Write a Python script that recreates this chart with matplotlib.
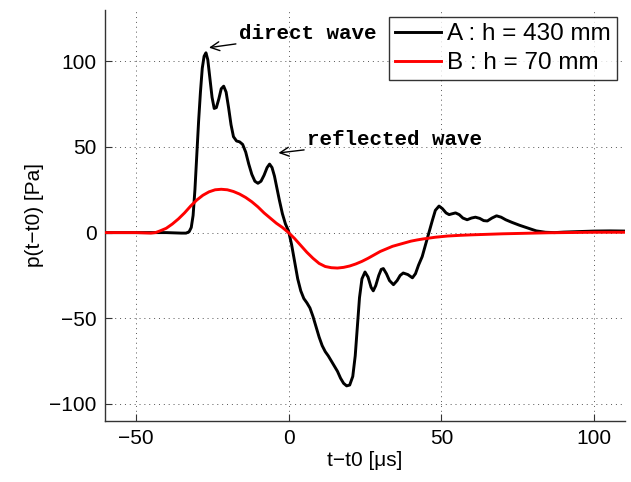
import matplotlib
matplotlib.use("Agg")
import matplotlib.pyplot as plt

# Series A (black): h = 430 mm
a_t = [-60, -50, -40, -35, -33.5, -32.5, -31.8, -31.2, -30.6, -30, -29.4, -28.8, -28.2, -27.6, -27,
       -26.4, -25.7, -25, -24.3, -23.6, -22.8, -22, -21.2, -20.4, -19.6, -18.8, -18, -17, -16, -15,
       -14, -13, -12, -11, -10, -9, -8, -7, -6.2, -5.4, -4.6, -3.8, -3, -2, -1, 0, 1, 2, 3, 4, 5, 6,
       7, 8, 9, 10, 11, 12, 13, 14, 15, 16, 17, 18, 19, 20, 21, 21.8, 22.5, 23.2, 24, 25, 26, 27,
       27.7, 28.5, 29.5, 30.3, 31, 32, 33, 34.3, 35.5, 36.5, 37.5, 39, 40.5, 41.5, 42.5, 43.7, 44.8,
       45.9, 47, 48, 49.2, 50.3, 51.5, 52.5, 53.5, 54.6, 55.8, 57, 58.4, 59.8, 61.1, 62.5, 63.8, 65,
       66.5, 68, 69.5, 71, 73, 75.5, 78.5, 81, 84, 87, 90, 95, 100, 105, 110]
a_p = [0, 0, 0, -0.3, -0.3, 0.5, 3, 10, 25, 45, 65, 82, 96, 103, 105,
       101, 90, 79, 72.5, 73, 78, 84, 85.5, 82, 73, 63, 56, 53.5, 53, 51.5,
       47, 40, 34, 30, 28.8, 30, 33.5, 38, 40, 38, 33, 26, 19, 11, 5, 1, -7, -17, -27, -34, -38.5, -41,
       -44, -49, -55, -61, -66, -69.5, -72, -75, -78, -81, -85, -88, -89.5, -89, -84, -72, -55, -38, -27, -23, -26, -32,
       -34, -31, -25, -21.5, -21, -24, -28, -30.4, -28, -25, -23.6, -24.5, -26.4, -24, -19, -14, -7,
       0, 7, 13, 15.5, 14, 11.5, 10.5, 11, 11.5, 10.5, 8.5, 7.5, 8.5, 9, 8.3, 7, 6.8,
       8.5, 9.8, 9, 7.5, 6, 4.3, 2.5, 1, 0.2, 0, 0.3, 0.6, 0.9, 1, 0.9]

# Series B (red): h = 70 mm
b_t = [-60, -50, -45, -43.5, -42, -40, -38, -36, -34, -32, -30, -28, -26, -24, -22, -20, -18, -16,
       -14, -12, -10, -8, -6, -4, -2, 0, 2, 4, 6, 8, 10, 12, 14, 16, 18, 20, 22, 24, 26, 28, 30, 32,
       34, 36, 38, 40, 42, 44, 46, 48, 52, 56, 60, 65, 70, 75, 80, 85, 90, 100, 110]
b_p = [0, 0, -0.3, 0, 1, 2.5, 5, 8, 11.5, 15.5, 19, 21.8, 23.8, 25, 25.3, 25, 24, 22.5,
       20.5, 18, 15, 11.5, 8.5, 5.5, 3, 0, -3.5, -7.5, -11.5, -15, -18, -19.8, -20.5, -20.7, -20.3, -19.5, -18.3, -16.8, -15, -13, -11, -9.5,
       -8, -7, -6, -5, -4.3, -3.7, -3.2, -2.7, -2, -1.6, -1.3, -1, -0.7, -0.5, -0.3, -0.1, 0, 0.2, 0.2]

x_ticks = [-50, 0, 50, 100]
y_ticks = [-100, -50, 0, 50, 100]
labels = ["A : h = 430 mm", "B : h = 70 mm"]

plt.rcParams['font.family'] = ['Liberation Sans', 'DejaVu Sans']
fig = plt.figure(figsize=(6.31, 4.82), dpi=100)
ax = fig.add_axes([0.1664, 0.1266, 0.8241, 0.8527])

ax.plot(a_t, a_p, color='black', lw=2.1, label=labels[0], zorder=3)
ax.plot(b_t, b_p, color='red', lw=2.1, label=labels[1], zorder=3)

ax.set_xlim(-60, 110)
ax.set_ylim(-110, 130)
ax.set_xticks(x_ticks)
ax.set_yticks(y_ticks)
ax.grid(True, linestyle=(0, (1, 4)), color='#555555', lw=0.7)
for s in ['top', 'right']:
    ax.spines[s].set_visible(False)
for s in ['left', 'bottom']:
    ax.spines[s].set_color('#333333')
    ax.spines[s].set_linewidth(1.0)
ax.tick_params(direction='in', length=5, labelsize=15, colors='#333333', labelcolor='black', pad=6)

ax.set_xlabel('t\u2212t0 [\u03bcs]', fontsize=15, labelpad=2)
ax.set_ylabel('p(t\u2212t0) [Pa]', fontsize=15, labelpad=4)

leg = ax.legend(loc='upper right', bbox_to_anchor=(0.985, 0.983), fontsize=17.5, frameon=True,
                fancybox=False, edgecolor='black', handlelength=1.9, borderpad=0.25,
                labelspacing=0.3, handletextpad=0.25, borderaxespad=0)
leg.get_frame().set_linewidth(1.0)

mono = dict(family=['Liberation Mono', 'DejaVu Sans Mono'], fontsize=15, fontweight='bold')
ax.annotate('direct wave', xy=(-26, 108), xytext=(-16.3, 116), va='center', ha='left',
            arrowprops=dict(arrowstyle='->', color='black', lw=1, mutation_scale=16,
                            shrinkA=0, shrinkB=0), **mono)
ax.annotate('reflected wave', xy=(-3.3, 46.5), xytext=(6, 54.6), va='center', ha='left',
            arrowprops=dict(arrowstyle='->', color='black', lw=1, mutation_scale=16,
                            shrinkA=0, shrinkB=0), **mono)

fig.savefig('out.png', dpi=100)
